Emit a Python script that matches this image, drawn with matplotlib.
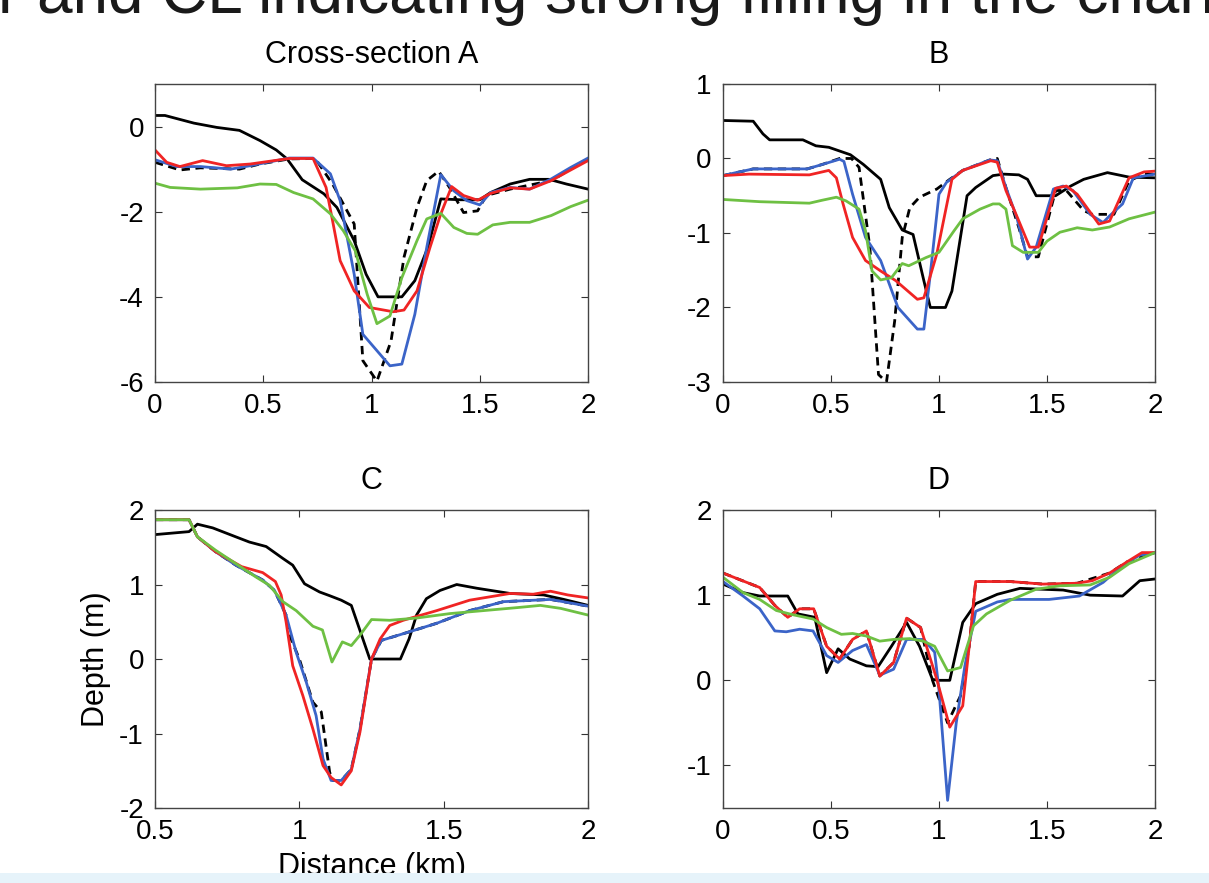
import matplotlib
matplotlib.use('Agg')
import matplotlib.pyplot as plt
from matplotlib.patches import Rectangle
from matplotlib.ticker import FuncFormatter

plt.rcParams['font.family'] = ['Liberation Sans', 'DejaVu Sans']
plt.rcParams['axes.unicode_minus'] = False

# ---- panel A (Cross-section A) ----
a_obs_x = [0, 0.046, 0.18, 0.285, 0.39, 0.485, 0.56, 0.61, 0.68, 0.78, 0.84, 0.92, 0.975, 1.03, 1.14, 1.2, 1.26, 1.32, 1.41, 1.50, 1.55, 1.64, 1.73, 1.82, 1.90, 2.0]
a_obs_y = [0.26, 0.26, 0.08, -0.02, -0.09, -0.33, -0.55, -0.76, -1.25, -1.58, -1.9, -2.68, -3.47, -4.0, -4.0, -3.62, -2.84, -1.70, -1.72, -1.72, -1.55, -1.35, -1.24, -1.24, -1.35, -1.47]
a_dash_x = [0, 0.115, 0.21, 0.39, 0.485, 0.62, 0.74, 0.82, 0.92, 0.96, 1.025, 1.09, 1.15, 1.21, 1.255, 1.31, 1.36, 1.425, 1.49, 1.53, 1.64, 1.83, 2.0]
a_dash_y = [-0.84, -1.02, -0.97, -1.0, -0.88, -0.76, -0.75, -1.35, -2.29, -5.5, -5.98, -5.04, -3.07, -1.9, -1.27, -1.05, -1.43, -2.02, -1.98, -1.62, -1.47, -1.27, -0.76]
a_blue_x = [0, 0.1, 0.21, 0.35, 0.44, 0.62, 0.73, 0.81, 0.855, 0.92, 0.96, 1.085, 1.14, 1.2, 1.255, 1.32, 1.38, 1.44, 1.5, 1.55, 1.64, 1.73, 1.83, 1.92, 2.0]
a_blue_y = [-0.78, -0.94, -0.94, -1.0, -0.92, -0.74, -0.74, -1.11, -1.74, -3.47, -4.88, -5.62, -5.58, -4.41, -2.84, -1.13, -1.51, -1.74, -1.84, -1.55, -1.43, -1.47, -1.23, -0.96, -0.74]
a_red_x = [0, 0.054, 0.115, 0.22, 0.33, 0.44, 0.62, 0.73, 0.79, 0.82, 0.855, 0.92, 0.99, 1.1, 1.15, 1.21, 1.27, 1.32, 1.37, 1.425, 1.49, 1.55, 1.64, 1.73, 1.83, 1.92, 2.0]
a_red_y = [-0.55, -0.84, -0.94, -0.80, -0.92, -0.88, -0.75, -0.75, -1.43, -2.21, -3.15, -3.86, -4.25, -4.35, -4.31, -3.86, -2.84, -2.05, -1.41, -1.62, -1.73, -1.57, -1.44, -1.47, -1.27, -1.02, -0.8]
a_green_x = [0, 0.07, 0.21, 0.38, 0.485, 0.56, 0.64, 0.73, 0.81, 0.87, 0.925, 0.98, 1.025, 1.085, 1.14, 1.21, 1.255, 1.32, 1.38, 1.44, 1.49, 1.56, 1.64, 1.73, 1.83, 1.92, 2.0]
a_green_y = [-1.33, -1.43, -1.47, -1.44, -1.35, -1.36, -1.55, -1.70, -2.05, -2.45, -2.92, -3.94, -4.63, -4.45, -3.55, -2.68, -2.17, -2.04, -2.37, -2.51, -2.53, -2.31, -2.25, -2.25, -2.09, -1.88, -1.73]

# ---- panel B ----
b_obs_x = [0, 0.14, 0.185, 0.216, 0.37, 0.43, 0.49, 0.59, 0.65, 0.73, 0.77, 0.83, 0.88, 0.93, 0.96, 1.03, 1.06, 1.13, 1.17, 1.25, 1.30, 1.37, 1.41, 1.45, 1.54, 1.61, 1.67, 1.78, 1.88, 2.0]
b_obs_y = [0.51, 0.50, 0.33, 0.25, 0.25, 0.17, 0.15, 0.05, -0.08, -0.28, -0.66, -0.96, -1.02, -1.64, -2.0, -2.0, -1.78, -0.5, -0.39, -0.23, -0.21, -0.22, -0.28, -0.50, -0.50, -0.37, -0.28, -0.19, -0.25, -0.26]
b_dash_x = [0, 0.14, 0.39, 0.46, 0.54, 0.595, 0.63, 0.68, 0.72, 0.757, 0.795, 0.83, 0.865, 0.91, 0.99, 1.05, 1.11, 1.235, 1.27, 1.31, 1.37, 1.41, 1.46, 1.54, 1.59, 1.67, 1.71, 1.81, 1.88, 1.95, 2.0]
b_dash_y = [-0.23, -0.14, -0.14, -0.08, 0.0, 0.0, -0.12, -1.19, -2.9, -3.0, -2.18, -1.06, -0.66, -0.52, -0.41, -0.28, -0.16, -0.02, 0.0, -0.39, -0.93, -1.32, -1.32, -0.43, -0.43, -0.70, -0.75, -0.75, -0.30, -0.21, -0.21]
b_blue_x = [0, 0.06, 0.14, 0.39, 0.46, 0.54, 0.56, 0.60, 0.66, 0.73, 0.81, 0.90, 0.93, 0.96, 1.0, 1.035, 1.11, 1.235, 1.27, 1.31, 1.36, 1.41, 1.45, 1.53, 1.575, 1.62, 1.70, 1.76, 1.79, 1.85, 1.90, 2.0]
b_blue_y = [-0.23, -0.19, -0.14, -0.14, -0.08, -0.01, -0.04, -0.48, -1.06, -1.37, -2.0, -2.29, -2.29, -1.55, -0.48, -0.32, -0.16, -0.02, -0.03, -0.39, -0.79, -1.35, -1.19, -0.41, -0.37, -0.43, -0.75, -0.86, -0.77, -0.61, -0.26, -0.21]
b_red_x = [0, 0.12, 0.40, 0.49, 0.525, 0.556, 0.60, 0.66, 0.73, 0.80, 0.90, 0.93, 0.99, 1.06, 1.11, 1.24, 1.27, 1.31, 1.37, 1.42, 1.46, 1.54, 1.59, 1.64, 1.74, 1.79, 1.88, 1.95, 2.0]
b_red_y = [-0.23, -0.21, -0.22, -0.16, -0.26, -0.61, -1.06, -1.37, -1.51, -1.64, -1.89, -1.87, -1.28, -0.28, -0.16, -0.03, -0.05, -0.43, -0.84, -1.19, -1.19, -0.40, -0.37, -0.48, -0.88, -0.84, -0.26, -0.18, -0.17]
b_green_x = [0, 0.17, 0.40, 0.46, 0.525, 0.57, 0.63, 0.66, 0.69, 0.73, 0.78, 0.83, 0.86, 0.94, 1.0, 1.07, 1.11, 1.19, 1.25, 1.28, 1.31, 1.34, 1.39, 1.46, 1.50, 1.56, 1.64, 1.71, 1.79, 1.88, 2.0]
b_green_y = [-0.55, -0.58, -0.60, -0.56, -0.52, -0.57, -0.68, -0.97, -1.51, -1.63, -1.60, -1.41, -1.44, -1.33, -1.26, -0.97, -0.81, -0.68, -0.61, -0.61, -0.68, -1.17, -1.26, -1.26, -1.11, -0.99, -0.93, -0.96, -0.92, -0.81, -0.72]

# ---- panel C ----
c_obs_x = [0.5, 0.618, 0.647, 0.70, 0.78, 0.827, 0.885, 0.943, 0.977, 1.018, 1.07, 1.105, 1.145, 1.18, 1.244, 1.35, 1.38, 1.406, 1.44, 1.487, 1.545, 1.615, 1.73, 1.846, 1.916, 2.0]
c_obs_y = [1.67, 1.71, 1.81, 1.76, 1.64, 1.57, 1.51, 1.35, 1.26, 1.01, 0.90, 0.85, 0.79, 0.72, 0.0, 0.0, 0.27, 0.59, 0.81, 0.92, 1.0, 0.95, 0.88, 0.86, 0.80, 0.72]
c_dash_x = [0.5, 0.618, 0.647, 0.71, 0.78, 0.873, 0.914, 0.954, 0.966, 1.0, 1.047, 1.076, 1.105, 1.116, 1.145, 1.18, 1.21, 1.25, 1.284, 1.36, 1.476, 1.59, 1.707, 1.87, 2.0]
c_dash_y = [1.87, 1.87, 1.64, 1.44, 1.26, 1.06, 0.92, 0.59, 0.32, 0.0, -0.58, -0.71, -1.52, -1.63, -1.63, -1.48, -0.94, 0.0, 0.25, 0.34, 0.48, 0.65, 0.77, 0.80, 0.71]
c_blue_x = [0.5, 0.618, 0.647, 0.71, 0.78, 0.873, 0.914, 0.954, 0.989, 1.024, 1.058, 1.082, 1.11, 1.145, 1.18, 1.21, 1.25, 1.284, 1.36, 1.476, 1.59, 1.707, 1.87, 2.0]
c_blue_y = [1.87, 1.87, 1.64, 1.44, 1.26, 1.06, 0.92, 0.59, 0.09, -0.31, -0.76, -1.34, -1.63, -1.63, -1.48, -0.94, 0.0, 0.25, 0.34, 0.48, 0.65, 0.77, 0.80, 0.71]
c_red_x = [0.5, 0.618, 0.647, 0.71, 0.80, 0.873, 0.917, 0.937, 0.954, 0.977, 1.012, 1.047, 1.082, 1.11, 1.145, 1.18, 1.21, 1.25, 1.28, 1.313, 1.36, 1.476, 1.59, 1.73, 1.81, 1.87, 1.93, 2.0]
c_red_y = [1.87, 1.87, 1.64, 1.44, 1.24, 1.16, 1.04, 0.86, 0.50, -0.09, -0.49, -0.94, -1.43, -1.59, -1.69, -1.50, -0.98, 0.0, 0.27, 0.45, 0.52, 0.65, 0.79, 0.88, 0.87, 0.91, 0.86, 0.82]
c_green_x = [0.5, 0.618, 0.647, 0.71, 0.78, 0.85, 0.896, 0.943, 0.989, 1.047, 1.08, 1.113, 1.149, 1.18, 1.21, 1.25, 1.313, 1.406, 1.522, 1.638, 1.754, 1.835, 1.905, 2.0]
c_green_y = [1.87, 1.87, 1.64, 1.46, 1.28, 1.10, 0.99, 0.77, 0.65, 0.44, 0.39, -0.04, 0.23, 0.18, 0.32, 0.53, 0.52, 0.55, 0.61, 0.65, 0.69, 0.72, 0.68, 0.59]

# ---- panel D ----
d_obs_x = [0, 0.093, 0.17, 0.30, 0.347, 0.425, 0.48, 0.533, 0.587, 0.664, 0.718, 0.78, 0.85, 0.91, 0.97, 1.0, 1.05, 1.11, 1.17, 1.27, 1.375, 1.575, 1.70, 1.85, 1.93, 2.0]
d_obs_y = [1.13, 1.03, 0.99, 0.99, 0.78, 0.74, 0.09, 0.37, 0.25, 0.17, 0.16, 0.40, 0.68, 0.40, 0.01, 0.0, 0.0, 0.68, 0.90, 1.01, 1.08, 1.06, 1.0, 0.99, 1.17, 1.19]
d_dash_x = [0, 0.17, 0.24, 0.30, 0.355, 0.42, 0.48, 0.54, 0.60, 0.664, 0.726, 0.79, 0.85, 0.915, 0.97, 1.04, 1.10, 1.14, 1.17, 1.33, 1.48, 1.64, 1.79, 1.87, 2.0]
d_dash_y = [1.26, 1.09, 0.88, 0.74, 0.84, 0.84, 0.40, 0.25, 0.48, 0.58, 0.05, 0.21, 0.73, 0.62, 0.0, -0.5, -0.18, 0.40, 1.16, 1.16, 1.13, 1.14, 1.26, 1.39, 1.50]
d_blue_x = [0, 0.093, 0.17, 0.24, 0.293, 0.355, 0.417, 0.48, 0.533, 0.60, 0.664, 0.726, 0.79, 0.85, 0.93, 0.98, 1.0, 1.04, 1.08, 1.12, 1.17, 1.27, 1.33, 1.51, 1.65, 1.76, 1.85, 1.93, 2.0]
d_blue_y = [1.16, 0.99, 0.84, 0.58, 0.57, 0.60, 0.58, 0.29, 0.21, 0.35, 0.42, 0.06, 0.13, 0.48, 0.48, 0.33, -0.11, -1.41, -0.5, 0.17, 0.81, 0.92, 0.95, 0.95, 0.99, 1.15, 1.35, 1.47, 1.50]
d_red_x = [0, 0.17, 0.24, 0.30, 0.355, 0.42, 0.48, 0.54, 0.60, 0.664, 0.726, 0.79, 0.85, 0.915, 0.99, 1.05, 1.11, 1.14, 1.17, 1.33, 1.48, 1.64, 1.71, 1.79, 1.87, 1.94, 2.0]
d_red_y = [1.26, 1.09, 0.88, 0.74, 0.84, 0.84, 0.40, 0.25, 0.48, 0.58, 0.05, 0.21, 0.73, 0.62, 0.01, -0.55, -0.30, 0.40, 1.16, 1.16, 1.13, 1.14, 1.17, 1.26, 1.39, 1.50, 1.50]
d_green_x = [0, 0.093, 0.17, 0.247, 0.324, 0.417, 0.48, 0.548, 0.60, 0.664, 0.726, 0.79, 0.865, 0.927, 0.98, 1.04, 1.10, 1.16, 1.22, 1.33, 1.45, 1.56, 1.70, 1.79, 1.88, 2.0]
d_green_y = [1.21, 1.03, 0.95, 0.82, 0.77, 0.72, 0.62, 0.54, 0.55, 0.52, 0.46, 0.48, 0.49, 0.46, 0.40, 0.11, 0.15, 0.64, 0.78, 0.94, 1.07, 1.11, 1.12, 1.21, 1.37, 1.50]

panel_titles = ['Cross-section A', 'B', 'C', 'D']
xticks_main = [0, 0.5, 1, 1.5, 2]
xticks_c = [0.5, 1, 1.5, 2]

BLUE = '#3b64c8'
RED = '#f02424'
GREEN = '#6ec043'
LW = 2.0

fig = plt.figure(figsize=(12.09, 8.83), dpi=100)

# top caption line from the surrounding page, cut off by the crop as in the reference
fig.text(-0.002, 1 - 13 / 883, 'r and CL indicating strong filling in the chan',
         fontsize=46, ha='left', va='baseline', color='#1a1a1a')

ax_a = fig.add_axes([0.1282, 0.5674, 0.3582, 0.3375])
ax_b = fig.add_axes([0.598, 0.5674, 0.3573, 0.3375])
ax_c = fig.add_axes([0.1282, 0.0849, 0.3582, 0.3375])
ax_d = fig.add_axes([0.598, 0.0849, 0.3573, 0.3375])

panels = [
    (ax_a, a_obs_x, a_obs_y, a_dash_x, a_dash_y, a_blue_x, a_blue_y, a_red_x, a_red_y, a_green_x, a_green_y),
    (ax_b, b_obs_x, b_obs_y, b_dash_x, b_dash_y, b_blue_x, b_blue_y, b_red_x, b_red_y, b_green_x, b_green_y),
    (ax_c, c_obs_x, c_obs_y, c_dash_x, c_dash_y, c_blue_x, c_blue_y, c_red_x, c_red_y, c_green_x, c_green_y),
    (ax_d, d_obs_x, d_obs_y, d_dash_x, d_dash_y, d_blue_x, d_blue_y, d_red_x, d_red_y, d_green_x, d_green_y),
]

fmt = FuncFormatter(lambda v, _: '{:g}'.format(v))

for (ax, ox, oy, dx, dy, bx, by, rx, ry, gx, gy), title in zip(panels, panel_titles):
    ax.plot(ox, oy, color='black', lw=LW)
    ax.plot(dx, dy, color='black', lw=LW, dashes=(3, 2))
    ax.plot(bx, by, color=BLUE, lw=LW)
    ax.plot(rx, ry, color=RED, lw=LW)
    ax.plot(gx, gy, color=GREEN, lw=LW)
    ax.set_title(title, fontsize=22, pad=15)
    ax.tick_params(direction='in', top=True, right=True, length=5,
                   labelsize=20, color='#333333', pad=8)
    for s in ax.spines.values():
        s.set_color('#444444')
        s.set_linewidth(1.0)
    ax.xaxis.set_major_formatter(fmt)
    ax.yaxis.set_major_formatter(fmt)

ax_a.set_xlim(0, 2); ax_a.set_ylim(-6, 1)
ax_a.set_xticks(xticks_main); ax_a.set_yticks([-6, -4, -2, 0])
ax_b.set_xlim(0, 2); ax_b.set_ylim(-3, 1)
ax_b.set_xticks(xticks_main); ax_b.set_yticks([-3, -2, -1, 0, 1])
ax_c.set_xlim(0.5, 2); ax_c.set_ylim(-2, 2)
ax_c.set_xticks(xticks_c); ax_c.set_yticks([-2, -1, 0, 1, 2])
ax_d.set_xlim(0, 2); ax_d.set_ylim(-1.5, 2)
ax_d.set_xticks(xticks_main); ax_d.set_yticks([-1, 0, 1, 2])

ax_c.set_ylabel('Depth (m)', fontsize=22, labelpad=6)
ax_c.set_xlabel('Distance (km)', fontsize=22, labelpad=5)

# light page strip at the very bottom
fig.add_artist(Rectangle((0, 0), 1, 10 / 883, transform=fig.transFigure,
                         facecolor='#e6f3fa', edgecolor='none', zorder=10))

fig.savefig('out.png', dpi=100)
